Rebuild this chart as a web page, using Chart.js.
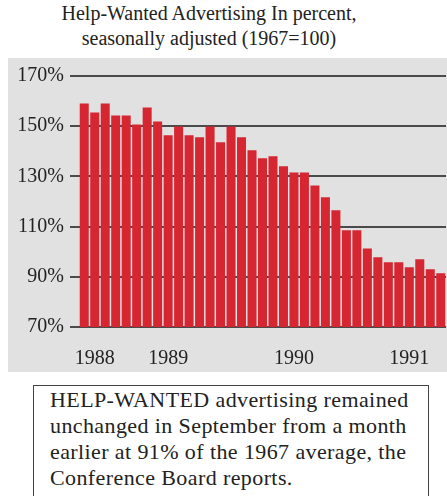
<!DOCTYPE html>
<html>
<head>
<meta charset="utf-8">
<script src="https://cdn.jsdelivr.net/npm/chart.js@4/dist/chart.umd.min.js"></script>
<style>
    body { margin: 0; width: 447px; height: 496px; background: #fff; position: relative; overflow: hidden;
           font-family: 'Liberation Serif', 'DejaVu Serif', serif; color: #222; }
    #title { position: absolute; left: 0; top: 1px; width: 418px; text-align: center;
             font-size: 20px; line-height: 25px; }
    #panel { position: absolute; left: 8px; top: 58px; width: 439px; height: 314px; background: #e1e1e1; }
    #note { position: absolute; left: 33px; top: 385px; width: 378px; height: 140px;
            border: 1.5px solid #444; padding: 1px 0 0 16px; font-size: 22px; line-height: 26px;
            letter-spacing: 0.4px; }
</style>
</head>
<body>
<div id="title">Help-Wanted Advertising In percent,<br>seasonally adjusted (1967=100)</div>
<div id="panel"><canvas id="chart" width="439" height="314"></canvas></div>
<div id="note">HELP-WANTED advertising remained unchanged in September from a month earlier at 91% of the 1967 average, the Conference Board reports.</div>
<script>
// months, only the year starts carry a label
const months = [
    '', '1988', '', '', '', '', '', '', '1989', '', '', '', '', '', '', '', '', '', '',
    '', '1990', '', '', '', '', '', '', '', '', '', '', '1991', '', '', ''
];
// help-wanted index, percent of 1967 average
const helpWanted = [
    159, 155.5, 159, 154.3, 154.3, 150.7, 157.5, 151.9, 146.4, 149.9,
    146.4, 145.6, 149.9, 143.6, 149.9, 145.6, 140.4, 137.2, 138, 134,
    131.6, 131.6, 126.4, 121.7, 116.5, 108.5, 108.5, 101.3, 97.8, 95.8,
    95.8, 93.8, 97, 93, 91.4
];
const yTicks = [70, 90, 110, 130, 150, 170];

const serif = "'Liberation Serif', 'DejaVu Serif', serif";

document.addEventListener('DOMContentLoaded', function() {
    const ctx = document.getElementById('chart').getContext('2d');
    new Chart(ctx, {
        type: 'bar',
        data: {
            labels: months,
            datasets: [{
                data: helpWanted,
                backgroundColor: '#d62632',
                borderWidth: 0,
                barPercentage: 0.86,
                categoryPercentage: 1
            }]
        },
        options: {
            responsive: false,
            animation: false,
            layout: { padding: { top: 17, right: 1, bottom: 0, left: 0 } },
            plugins: { legend: { display: false }, tooltip: { enabled: false } },
            scales: {
                x: {
                    grid: { display: false },
                    border: { display: false },
                    ticks: {
                        autoSkip: false, maxRotation: 0, padding: 12,
                        color: '#222', font: { family: serif, size: 20 }
                    },
                    afterFit: function(scale) {
                        scale.height = 45;
                        // bars run right up to the panel edge
                        scale.paddingLeft = 0;
                        scale.paddingRight = 0;
                    }
                },
                y: {
                    min: 70, max: 170,
                    afterBuildTicks: function(scale) {
                        scale.ticks = yTicks.map(v => ({ value: v }));
                    },
                    grid: { color: '#4a4a4a', lineWidth: 2, drawTicks: true, tickLength: 9 },
                    border: { display: false },
                    ticks: {
                        padding: 6, color: '#222', font: { family: serif, size: 20 },
                        callback: v => v + '%'
                    },
                    afterFit: function(scale) { scale.width = 71; }
                }
            }
        }
    });
});
</script>
</body>
</html>
